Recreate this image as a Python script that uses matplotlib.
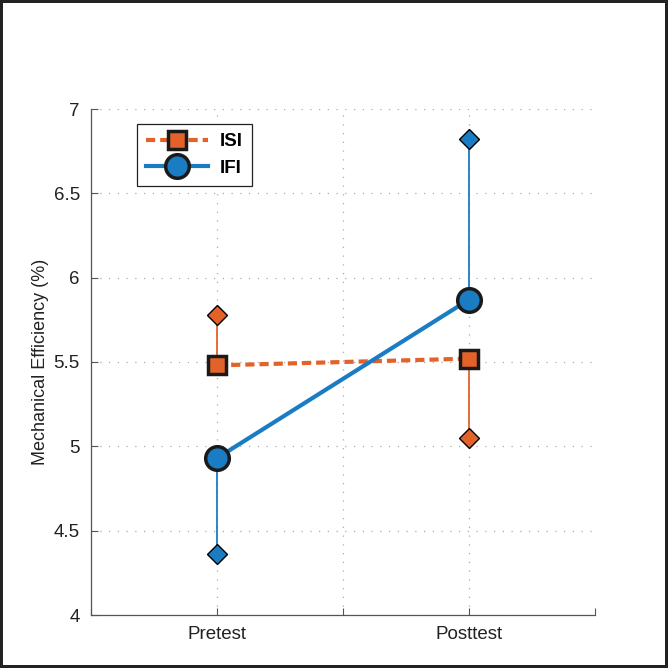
import numpy as np
import matplotlib
matplotlib.use('Agg')
import matplotlib.pyplot as plt

#%% data
sessions = ['Pretest', 'Posttest']
isi_mean = [5.48, 5.52]
isi_sd_end = [5.78, 5.05]   # end of one-sided error bar
ifi_mean = [4.93, 5.87]
ifi_sd_end = [4.36, 6.82]
yticks = [4, 4.5, 5, 5.5, 6, 6.5, 7]

orange = '#E2622A'
blue = '#1A7CC2'

plt.rcParams['font.family'] = ['Liberation Sans', 'DejaVu Sans']

fig = plt.figure(figsize=(6.68, 6.68), dpi=100, edgecolor='#222222', linewidth=4)
ax = fig.add_axes([91/668, 53/668, 504/668, 506/668])

x = np.arange(1, len(sessions) + 1)

# one-sided error bars with diamond caps
for xi, m, e in zip(x, isi_mean, isi_sd_end):
    ax.plot([xi, xi], [m, e], color=orange, lw=1.3, zorder=2)
    ax.plot(xi, e, marker='D', ms=10, mfc=orange, mec='black', mew=1.0, zorder=3)
for xi, m, e in zip(x, ifi_mean, ifi_sd_end):
    ax.plot([xi, xi], [m, e], color=blue, lw=1.3, zorder=2)
    ax.plot(xi, e, marker='D', ms=10, mfc=blue, mec='black', mew=1.0, zorder=3)

ax.plot(x, isi_mean, ls=(0, (2.2, 1.2)), color=orange, lw=3, marker='s', ms=13,
        mfc=orange, mec='#1a1a1a', mew=2.5, label='ISI', zorder=4)
ax.plot(x, ifi_mean, ls='-', color=blue, lw=3, marker='o', ms=17,
        mfc=blue, mec='#1a1a1a', mew=2.5, label='IFI', zorder=5)

ax.set_xlim(0.5, 2.5)
ax.set_ylim(4, 7)
ax.set_xticks([0.5, 1, 1.5, 2, 2.5])
ax.set_xticklabels(['', 'Pretest', '', 'Posttest', ''], fontsize=13.5)
ax.set_yticks(yticks)
ax.set_yticklabels(['%g' % v for v in yticks], fontsize=13.5)
ax.tick_params(direction='in', length=5, width=0.8, colors='#555555', labelcolor='#222222', pad=8)
ax.grid(True, ls=(0, (1, 6)), color='#aaaaaa', lw=0.9)
for s in ['top', 'right']:
    ax.spines[s].set_visible(False)
for s in ['left', 'bottom']:
    ax.spines[s].set_color('#555555')
    ax.spines[s].set_linewidth(0.9)
ax.set_ylabel('Mechanical Efficiency (%)', fontsize=13, color='#222222', labelpad=3)

leg = ax.legend(loc='upper left', bbox_to_anchor=(46/504, 1 - 15/506), borderaxespad=0,
                fancybox=False, edgecolor='#222222', framealpha=1, handlelength=3.3,
                handletextpad=0.6, borderpad=0.5, labelspacing=0.5,
                prop={'weight': 'bold', 'size': 13.5})
leg.get_frame().set_linewidth(0.9)

fig.savefig('out.png', dpi=100, edgecolor=fig.get_edgecolor())
